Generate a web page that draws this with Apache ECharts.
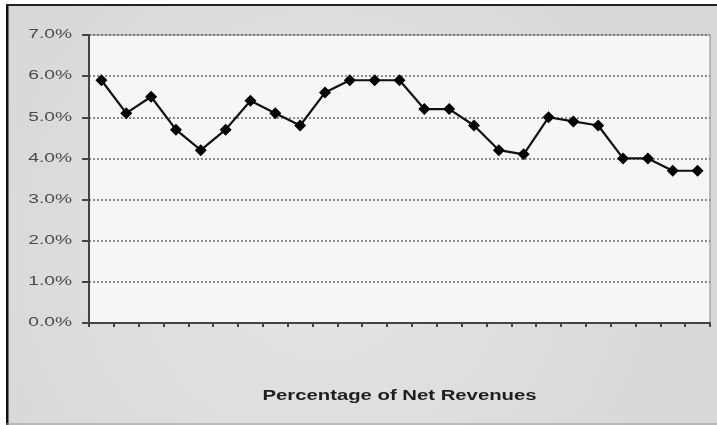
<!DOCTYPE html>
<html><head><meta charset="utf-8">
<script src="https://cdn.jsdelivr.net/npm/echarts@6/dist/echarts.min.js"></script>
<style>html,body{margin:0;padding:0;background:#fff}#c{width:717px;height:425px}</style>
</head><body><div id="c"></div>
<script>
const categories = ['1','2','3','4','5','6','7','8','9','10','11','12','13','14','15','16','17','18','19','20','21','22','23','24','25'];
const values = [5.9,5.1,5.5,4.7,4.2,4.7,5.4,5.1,4.8,5.6,5.9,5.9,5.9,5.2,5.2,4.8,4.2,4.1,5.0,4.9,4.8,4.0,4.0,3.7,3.7];
const yTicks = [0,1,2,3,4,5,6,7];
const yTickLabels = ['0.0%','1.0%','2.0%','3.0%','4.0%','5.0%','6.0%','7.0%'];
const axisTitle = 'Percentage of Net Revenues';

const chart = echarts.init(document.getElementById('c'));
const frame = [
  {type: 'line', shape: {x1: 7, y1: 0, x2: 7, y2: 425}, style: {stroke: '#111', lineWidth: 3}},
  {type: 'line', shape: {x1: 6, y1: 5, x2: 717, y2: 5}, style: {stroke: '#222', lineWidth: 2}},
  {type: 'line', shape: {x1: 6, y1: 424, x2: 717, y2: 424}, style: {stroke: '#999', lineWidth: 1}},
  {type: 'rect', shape: {x: 0, y: 0, width: 6, height: 425}, style: {fill: '#fff'}},
  {type: 'rect', shape: {x: 0, y: 0, width: 717, height: 4}, style: {fill: '#fff'}}
];
chart.setOption({
  animation: false,
  backgroundColor: {
    type: 'radial', x: 0.45, y: 0.6, r: 0.9,
    colorStops: [{offset: 0, color: '#e4e4e4'}, {offset: 1, color: '#d8d8d8'}]
  },
  grid: {left: 89, top: 35, right: 7, bottom: 102, show: true,
    backgroundColor: '#f6f6f6', borderColor: '#8a8a8a', borderWidth: 1},
  xAxis: {
    type: 'category', data: categories, boundaryGap: true,
    axisLine: {lineStyle: {color: '#444', width: 2}},
    axisTick: {show: true, length: 4, lineStyle: {color: '#444', width: 2}},
    axisLabel: {show: false},
    splitLine: {show: false}
  },
  yAxis: {
    type: 'value', min: yTicks[0], max: yTicks[yTicks.length-1], interval: 1,
    axisLine: {show: true, lineStyle: {color: '#444', width: 2}},
    axisTick: {show: true, length: 7, lineStyle: {color: '#444', width: 2}},
    axisLabel: {show: false},
    splitLine: {show: true, lineStyle: {color: '#6a6a6a', type: [2, 2], width: 1.5}}
  },
  series: [{
    type: 'line', data: values,
    symbol: 'diamond', symbolSize: 12,
    itemStyle: {color: '#000'},
    lineStyle: {color: '#111', width: 2.2}
  }],
  graphic: frame
});

const labels = yTicks.map((v, i) => {
  const py = chart.convertToPixel({yAxisIndex: 0}, v);
  return {type: 'text', x: 72, y: py, scaleX: 1.6,
    style: {text: yTickLabels[i], align: 'right', verticalAlign: 'middle',
      font: '12px "Liberation Sans", Arial', fill: '#4a4a4a'}};
});
const xMid = (chart.convertToPixel({xAxisIndex: 0}, categories[0]) +
              chart.convertToPixel({xAxisIndex: 0}, categories[categories.length-1])) / 2;
labels.push({type: 'text', x: xMid, y: 396, scaleX: 1.45,
  style: {text: axisTitle, align: 'center', verticalAlign: 'middle',
    font: 'bold 14px "Liberation Sans", Arial', fill: '#1e1e1e'}});
chart.setOption({graphic: frame.concat(labels)}, {replaceMerge: ['graphic']});
</script></body></html>
